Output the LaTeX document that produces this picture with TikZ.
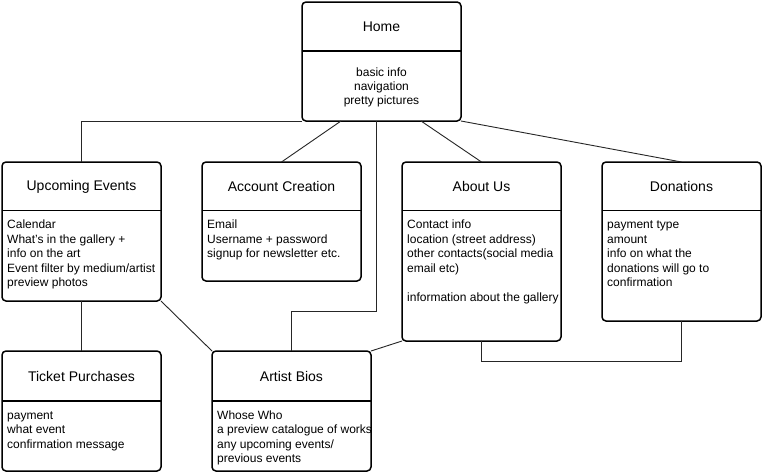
\documentclass[tikz,border=0pt]{standalone}
\usepackage{fontspec}
\setmainfont{Liberation Sans}
\usetikzlibrary{calc}
\newcommand{\bodylines}[1]{\begin{tabular}[t]{@{}l@{}}#1\end{tabular}}
\newcommand{\bodyclines}[1]{\begin{tabular}[t]{@{}c@{}}#1\end{tabular}}
\tikzset{
  umlbox/.style={draw, line width=1.5pt, rounded corners=4pt, inner sep=0pt, outer sep=0pt, anchor=north west, fill=white},
  divline/.style={line width=1.5pt},
  titletext/.style={font=\fontsize{14}{17}\selectfont, inner sep=0pt},
  bodytext/.style={font=\fontsize{12}{14.6}\selectfont, inner sep=0pt, anchor=base west},
  bodyctext/.style={font=\fontsize{12}{14.2}\selectfont, inner sep=0pt, anchor=base},
  link/.style={line width=0.9pt, draw=black!85}
}
\begin{document}
\begin{tikzpicture}[x=1pt,y=-1pt]
\useasboundingbox[fill=white] (0,0) rectangle (762,472);

% connectors (drawn first, under boxes)
\coordinate (jb) at (291.5,311);

% boxes
\node[umlbox, minimum width=159pt, minimum height=119pt] (home) at (302,2) {};
\node[umlbox, minimum width=159pt, minimum height=139pt] (upc) at (2,162) {};
\node[umlbox, minimum width=159pt, minimum height=119pt] (acct) at (202,162) {};
\node[umlbox, minimum width=159pt, minimum height=179pt] (about) at (402,162) {};
\node[umlbox, minimum width=159pt, minimum height=159pt] (don) at (602,162) {};
\node[umlbox, minimum width=159pt, minimum height=120pt] (tick) at (2,351) {};
\node[umlbox, minimum width=159pt, minimum height=120pt] (bios) at (212,351) {};

% dividers
\draw[divline] (302,51) -- (461,51);
\draw[divline] (2,210.5) -- (161,210.5);
\draw[divline] (202,210.5) -- (361,210.5);
\draw[divline] (402,210.5) -- (561,210.5);
\draw[divline] (602,210.5) -- (761,210.5);
\draw[divline] (2,401) -- (161,401);
\draw[divline] (212,401) -- (371,401);

% titles
\node[titletext] (homet) at (381.5,26.5) {Home};
\node[titletext] (upct) at (81.5,186.5) {Upcoming Events};
\node[titletext] (acctt) at (281.5,186.5) {Account Creation};
\node[titletext] (aboutt) at (481.5,186.5) {About Us};
\node[titletext] (dont) at (681.5,186.5) {Donations};
\node[titletext] (tickt) at (81.5,376.5) {Ticket Purchases};
\node[titletext] (biost) at (291.5,376.5) {Artist Bios};

% bodies
\node[bodyctext] (homeb) at (381.5,76) {\bodyclines{basic info\\navigation\\pretty pictures}};
\node[bodytext] (upcb) at (7,228.5) {\bodylines{Calendar\\What's in the gallery +\\info on the art\\Event filter by medium/artist\\preview photos}};
\node[bodytext] (acctb) at (207,228.5) {\bodylines{Email\\Username + password\\signup for newsletter etc.}};
\node[bodytext] (aboutb) at (407,228.5) {\bodylines{Contact info\\location (street address)\\other contacts(social media\\email etc)\\ \\information about the gallery}};
\node[bodytext] (donb) at (607,228.5) {\bodylines{payment type\\amount\\info on what the\\donations will go to\\confirmation}};
\node[bodytext] (tickb) at (7,419) {\bodylines{payment\\what event\\confirmation message}};
\node[bodytext] (biosb) at (217,419) {\bodylines{Whose Who\\a preview catalogue of works\\any upcoming events/\\previous events}};

% connectors
\draw[link] (home.south west) -| (upc.north);
\draw[link] ([xshift=39pt]home.south west) -- (acct.north);
\draw[link] ([xshift=74pt]home.south west) |- (jb) -- (bios.north);
\draw[link] ([xshift=119pt]home.south west) -- (about.north);
\draw[link] (home.south east) -- (don.north);
\draw[link] (upc.south) -- (tick.north);
\draw[link] (upc.south east) -- (bios.north west);
\draw[link] (about.south west) -- (bios.north east);
\draw[link] (about.south) -- ++(0,20) -| (don.south);
\end{tikzpicture}
\end{document}
